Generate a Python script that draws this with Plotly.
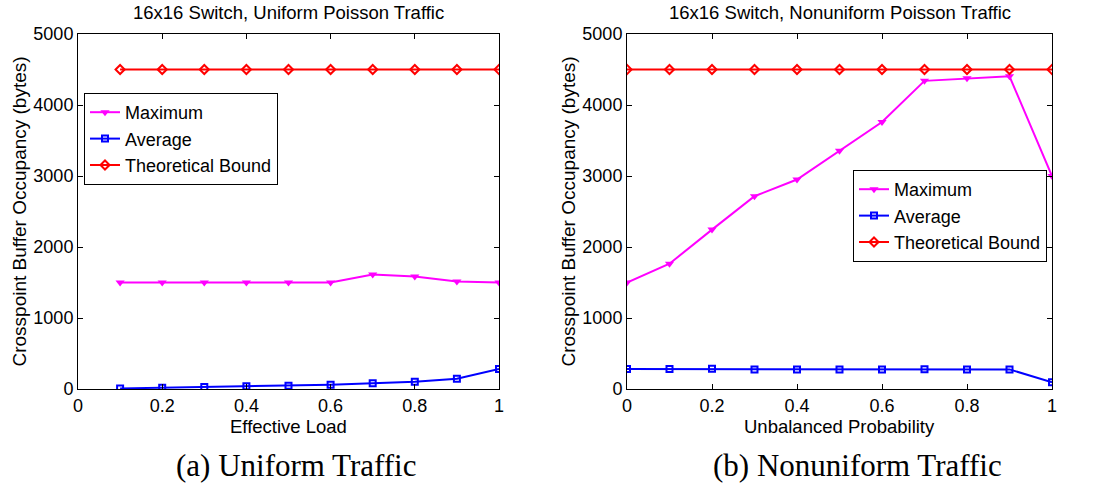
import plotly.graph_objects as go

# ---- data ----
load = [0.1, 0.2, 0.3, 0.4, 0.5, 0.6, 0.7, 0.8, 0.9, 1.0]
uni_max = [1500, 1500, 1500, 1500, 1500, 1500, 1612, 1585, 1515, 1500]
uni_avg = [8, 18, 28, 38, 47, 60, 80, 103, 145, 282]
uni_bound = [4500] * 10

prob = [0.0, 0.1, 0.2, 0.3, 0.4, 0.5, 0.6, 0.7, 0.8, 0.9, 1.0]
non_max = [1500, 1765, 2245, 2715, 2950, 3355, 3760, 4340, 4375, 4405, 3000]
non_avg = [282, 282, 284, 276, 276, 276, 276, 279, 276, 276, 94]
non_bound = [4500] * 11

xticks = [0, 0.2, 0.4, 0.6, 0.8, 1.0]
xticklabels = ["0", "0.2", "0.4", "0.6", "0.8", "1"]
yticks = [0, 1000, 2000, 3000, 4000, 5000]

titles = ["16x16 Switch, Uniform Poisson Traffic", "16x16 Switch, Nonuniform Poisson Traffic"]
xtitles = ["Effective Load", "Unbalanced Probability"]
ytitle = "Crosspoint Buffer Occupancy (bytes)"
captions = ["(a) Uniform Traffic", "(b) Nonuniform Traffic"]

W, H = 1094, 484
SANS = "Liberation Sans, Arial, sans-serif"
SERIF = "Liberation Serif, DejaVu Serif, serif"

MAG = "#ff00ff"
BLU = "#0000ff"
RED = "#ff0000"

fig = go.Figure()

def add_series(x, ymax, yavg, ybound, xa, ya, leg):
    fig.add_trace(go.Scatter(x=x, y=ymax, name="Maximum", xaxis=xa, yaxis=ya, legend=leg,
                             mode="lines+markers", line=dict(color=MAG, width=2),
                             marker=dict(symbol="triangle-down", size=8, color=MAG)))
    fig.add_trace(go.Scatter(x=x, y=yavg, name="Average", xaxis=xa, yaxis=ya, legend=leg,
                             mode="lines+markers", line=dict(color=BLU, width=2),
                             marker=dict(symbol="square-open", size=6, color=BLU,
                                         line=dict(width=2, color=BLU))))
    fig.add_trace(go.Scatter(x=x, y=ybound, name="Theoretical Bound", xaxis=xa, yaxis=ya, legend=leg,
                             mode="lines+markers", line=dict(color=RED, width=2),
                             marker=dict(symbol="diamond-open", size=7, color=RED,
                                         line=dict(width=2, color=RED))))

add_series(load, uni_max, uni_avg, uni_bound, "x", "y", "legend")
add_series(prob, non_max, non_avg, non_bound, "x2", "y2", "legend2")

ydom = [(H - 389) / H, (H - 34) / H]
xdoms = [[78 / W, 499 / W], [627 / W, 1052 / W]]

def xaxis_cfg(dom, anchor):
    return dict(domain=dom, range=[0, 1], tickvals=xticks, ticktext=xticklabels,
                ticks="inside", ticklen=5, tickcolor="black", showline=True, linecolor="black",
                linewidth=1, mirror="ticks", showgrid=False, zeroline=False, anchor=anchor,
                automargin=False,
                tickfont=dict(family=SANS, size=18, color="black"))

def yaxis_cfg(anchor):
    return dict(domain=ydom, range=[0, 5000], tickvals=yticks,
                ticks="inside", ticklen=5, tickcolor="black", showline=True, linecolor="black",
                linewidth=1, mirror="ticks", showgrid=False, zeroline=False, anchor=anchor,
                automargin=False,
                tickfont=dict(family=SANS, size=18, color="black"))

legend_common = dict(bgcolor="white", bordercolor="black", borderwidth=1,
                     font=dict(family=SANS, size=18, color="black"),
                     xanchor="left", yanchor="top", itemwidth=30, tracegroupgap=0)

fig.update_layout(
    width=W, height=H, margin=dict(l=0, r=0, t=0, b=0),
    paper_bgcolor="white", plot_bgcolor="white",
    xaxis=xaxis_cfg(xdoms[0], "y"),
    yaxis=yaxis_cfg("x"),
    xaxis2=xaxis_cfg(xdoms[1], "y2"),
    yaxis2=yaxis_cfg("x2"),
    legend=dict(x=84 / W, y=1 - 93 / H, **legend_common),
    legend2=dict(x=853 / W, y=1 - 170 / H, **legend_common),
    showlegend=True,
)

anns = []
ytitle_x = [19 / W, 568 / W]
for i in range(2):
    cx = (xdoms[i][0] + xdoms[i][1]) / 2
    anns.append(dict(text=titles[i], x=cx, y=1 - 13 / H, xref="paper", yref="paper",
                     showarrow=False, xanchor="center", yanchor="middle",
                     font=dict(family=SANS, size=18.5, color="black")))
    anns.append(dict(text=xtitles[i], x=cx, y=1 - 426 / H, xref="paper", yref="paper",
                     showarrow=False, xanchor="center", yanchor="middle",
                     font=dict(family=SANS, size=18.5, color="black")))
    anns.append(dict(text=ytitle, x=ytitle_x[i], y=(ydom[0] + ydom[1]) / 2, xref="paper", yref="paper",
                     showarrow=False, xanchor="center", yanchor="middle", textangle=-90,
                     font=dict(family=SANS, size=19, color="black")))
caption_x = [296 / W, 857 / W]
for i in range(2):
    anns.append(dict(text=captions[i], x=caption_x[i], y=1 - 465 / H, xref="paper", yref="paper",
                     showarrow=False, xanchor="center", yanchor="middle",
                     font=dict(family=SERIF, size=31, color="black")))
fig.update_layout(annotations=anns)

fig.write_html("out.html")
